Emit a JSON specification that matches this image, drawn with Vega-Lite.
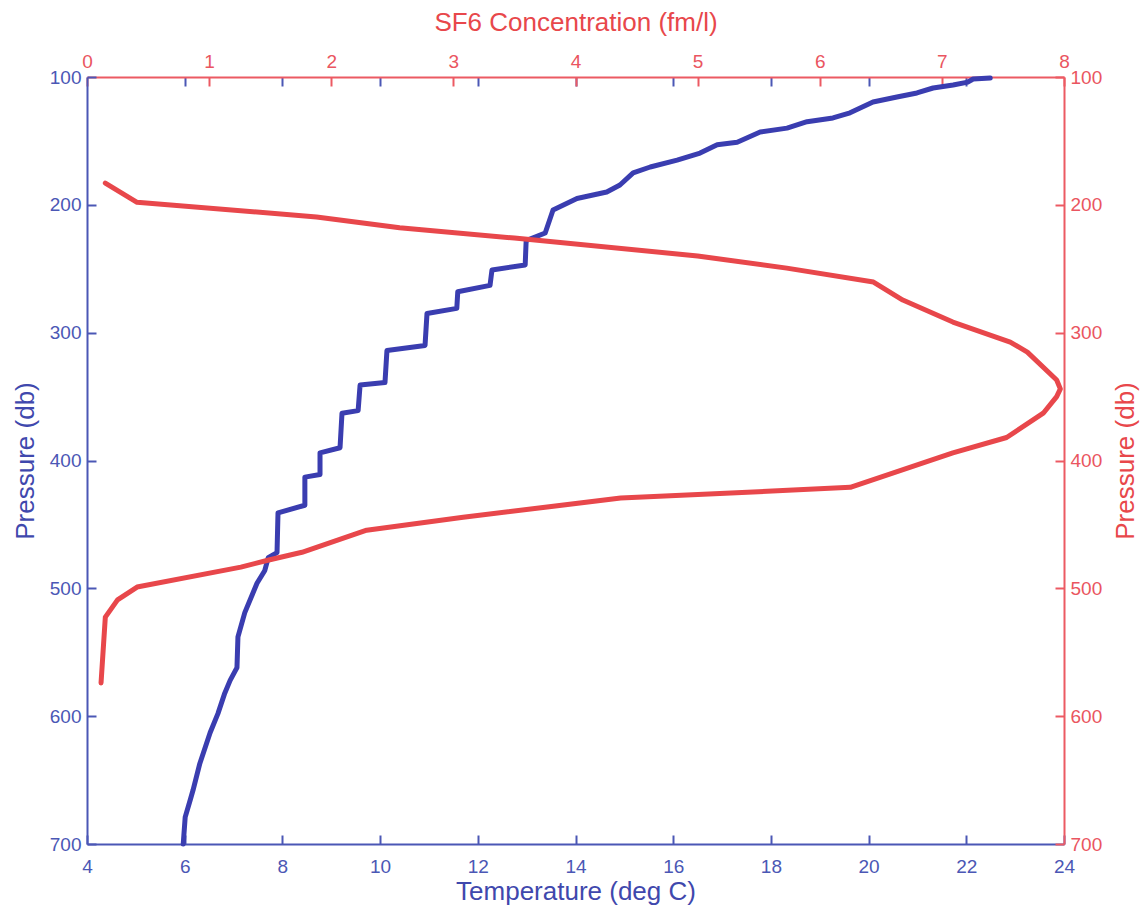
{
  "$schema": "https://vega.github.io/schema/vega-lite/v6.json",
  "autosize": {"type": "none"},
  "padding": {"left": 87, "top": 77, "right": 80, "bottom": 65},
  "width": 977,
  "height": 767,
  "background": "white",
  "config": {
    "view": {"stroke": null},
    "font": "Liberation Sans",
    "axis": {
      "grid": false,
      "labelFont": "Liberation Sans",
      "titleFont": "Liberation Sans",
      "labelFontSize": 19,
      "titleFontSize": 26,
      "titleFontWeight": "normal",
      "labelFlush": false,
      "labelOverlap": false,
      "labelBound": false,
      "tickSize": -9,
      "tickWidth": 2,
      "domainWidth": 2
    }
  },
  "datasets": {
    "temp": [
      {"i": 1, "T": 5.97, "P": 700},
      {"i": 2, "T": 6.01, "P": 679},
      {"i": 3, "T": 6.11, "P": 666},
      {"i": 4, "T": 6.17, "P": 658},
      {"i": 5, "T": 6.31, "P": 637},
      {"i": 6, "T": 6.52, "P": 613},
      {"i": 7, "T": 6.68, "P": 598},
      {"i": 8, "T": 6.82, "P": 582},
      {"i": 9, "T": 6.93, "P": 572},
      {"i": 10, "T": 7.07, "P": 562},
      {"i": 11, "T": 7.09, "P": 538},
      {"i": 12, "T": 7.23, "P": 519},
      {"i": 13, "T": 7.48, "P": 496},
      {"i": 14, "T": 7.64, "P": 486},
      {"i": 15, "T": 7.71, "P": 476},
      {"i": 16, "T": 7.89, "P": 472},
      {"i": 17, "T": 7.91, "P": 441},
      {"i": 18, "T": 8.46, "P": 435},
      {"i": 19, "T": 8.46, "P": 413},
      {"i": 20, "T": 8.77, "P": 411},
      {"i": 21, "T": 8.77, "P": 394},
      {"i": 22, "T": 9.18, "P": 390},
      {"i": 23, "T": 9.22, "P": 363},
      {"i": 24, "T": 9.55, "P": 361},
      {"i": 25, "T": 9.59, "P": 341},
      {"i": 26, "T": 10.1, "P": 339},
      {"i": 27, "T": 10.14, "P": 314},
      {"i": 28, "T": 10.92, "P": 310},
      {"i": 29, "T": 10.96, "P": 285},
      {"i": 30, "T": 11.57, "P": 281},
      {"i": 31, "T": 11.59, "P": 268},
      {"i": 32, "T": 12.25, "P": 263},
      {"i": 33, "T": 12.29, "P": 251},
      {"i": 34, "T": 12.97, "P": 247},
      {"i": 35, "T": 12.99, "P": 228},
      {"i": 36, "T": 13.38, "P": 222},
      {"i": 37, "T": 13.54, "P": 204},
      {"i": 38, "T": 14.03, "P": 195},
      {"i": 39, "T": 14.64, "P": 190},
      {"i": 40, "T": 14.91, "P": 184.5},
      {"i": 41, "T": 15.18, "P": 175},
      {"i": 42, "T": 15.53, "P": 170.4},
      {"i": 43, "T": 16.08, "P": 165},
      {"i": 44, "T": 16.55, "P": 159.5},
      {"i": 45, "T": 16.9, "P": 153},
      {"i": 46, "T": 17.31, "P": 151},
      {"i": 47, "T": 17.78, "P": 143},
      {"i": 48, "T": 18.33, "P": 140},
      {"i": 49, "T": 18.74, "P": 135},
      {"i": 50, "T": 19.27, "P": 132},
      {"i": 51, "T": 19.62, "P": 128},
      {"i": 52, "T": 20.09, "P": 119.6},
      {"i": 53, "T": 20.58, "P": 115.6},
      {"i": 54, "T": 20.99, "P": 112.5},
      {"i": 55, "T": 21.32, "P": 108.6},
      {"i": 56, "T": 21.73, "P": 106.3},
      {"i": 57, "T": 22.03, "P": 104},
      {"i": 58, "T": 22.14, "P": 101.6},
      {"i": 59, "T": 22.49, "P": 100.8}
    ],
    "sf6": [
      {"i": 1, "S": 0.15, "P": 183},
      {"i": 2, "S": 0.41, "P": 198},
      {"i": 3, "S": 1.88, "P": 209.5},
      {"i": 4, "S": 2.56, "P": 218},
      {"i": 5, "S": 3.5, "P": 226},
      {"i": 6, "S": 5.0, "P": 240},
      {"i": 7, "S": 5.73, "P": 249.5},
      {"i": 8, "S": 6.44, "P": 260.4},
      {"i": 9, "S": 6.68, "P": 274.5},
      {"i": 10, "S": 7.09, "P": 291.7},
      {"i": 11, "S": 7.56, "P": 307.4},
      {"i": 12, "S": 7.7, "P": 315.2},
      {"i": 13, "S": 7.94, "P": 337},
      {"i": 14, "S": 7.97, "P": 344},
      {"i": 15, "S": 7.94, "P": 350},
      {"i": 16, "S": 7.83, "P": 363},
      {"i": 17, "S": 7.53, "P": 382},
      {"i": 18, "S": 7.09, "P": 394},
      {"i": 19, "S": 6.25, "P": 421},
      {"i": 20, "S": 4.37, "P": 429.4},
      {"i": 21, "S": 3.08, "P": 444.4},
      {"i": 22, "S": 2.29, "P": 454.5},
      {"i": 23, "S": 1.76, "P": 471.8},
      {"i": 24, "S": 1.48, "P": 478},
      {"i": 25, "S": 1.26, "P": 483.4},
      {"i": 26, "S": 0.41, "P": 499},
      {"i": 27, "S": 0.25, "P": 509},
      {"i": 28, "S": 0.15, "P": 522.5},
      {"i": 29, "S": 0.115, "P": 574}
    ]
  },
  "layer": [
    {
      "data": {"name": "temp"},
      "mark": {"type": "line", "opacity": 0},
      "encoding": {
        "x": {"field": "T", "type": "quantitative",
          "scale": {"domain": [4, 24], "nice": false, "zero": false},
          "axis": {"orient": "top", "values": [6, 8, 10, 12, 14, 16, 18, 20, 22], "labels": false, "domain": false, "title": null, "tickColor": "#4b57b5"}},
        "y": {"field": "P", "type": "quantitative",
          "scale": {"domain": [100, 700], "reverse": true, "nice": false, "zero": false},
          "axis": null},
        "order": {"field": "i"}
      }
    },
    {
      "data": {"name": "temp"},
      "mark": {"type": "line", "color": "#3a3db0", "strokeWidth": 5, "strokeCap": "round", "strokeJoin": "round"},
      "encoding": {
        "x": {"field": "T", "type": "quantitative",
          "scale": {"domain": [4, 24], "nice": false, "zero": false},
          "axis": {"orient": "bottom", "values": [4, 6, 8, 10, 12, 14, 16, 18, 20, 22, 24],
            "title": "Temperature (deg C)", "titleColor": "#3f48ad", "titleX": 488.5, "titleY": 47, "titleBaseline": "middle",
            "labelColor": "#4b57b5", "domainColor": "#4b57b5", "tickColor": "#4b57b5", "labelPadding": 22}},
        "y": {"field": "P", "type": "quantitative",
          "scale": {"domain": [100, 700], "reverse": true, "nice": false, "zero": false},
          "axis": {"orient": "left", "values": [100, 200, 300, 400, 500, 600, 700],
            "title": "Pressure (db)", "titleColor": "#3f48ad", "titleX": -62, "titleY": 383.5, "titleAngle": 270, "titleAlign": "center", "titleBaseline": "middle",
            "labelColor": "#4b57b5", "domainColor": "#4b57b5", "tickColor": "#4b57b5", "labelPadding": 15}},
        "order": {"field": "i"}
      }
    },
    {
      "data": {"name": "sf6"},
      "mark": {"type": "line", "color": "#e8474b", "strokeWidth": 5, "strokeCap": "round", "strokeJoin": "round"},
      "encoding": {
        "x": {"field": "S", "type": "quantitative",
          "scale": {"domain": [0, 8], "nice": false, "zero": false},
          "axis": {"orient": "top", "values": [0, 1, 2, 3, 4, 5, 6, 7, 8],
            "title": "SF6 Concentration (fm/l)", "titleColor": "#e8474b", "titleX": 488.5, "titleY": -55, "titleBaseline": "middle",
            "labelColor": "#ea5560", "domainColor": "#ec5a63", "tickColor": "#ec5a63", "labelPadding": 15}},
        "y": {"field": "P", "type": "quantitative",
          "scale": {"domain": [100, 700], "reverse": true, "nice": false, "zero": false},
          "axis": {"orient": "right", "values": [100, 200, 300, 400, 500, 600, 700],
            "title": "Pressure (db)", "titleColor": "#e8474b", "titleX": 61, "titleY": 383.5, "titleAngle": 270, "titleAlign": "center", "titleBaseline": "middle",
            "labelColor": "#ea5560", "domainColor": "#ec5a63", "tickColor": "#ec5a63", "labelPadding": 15}},
        "order": {"field": "i"}
      }
    }
  ],
  "resolve": {"scale": {"x": "independent", "y": "independent"}, "axis": {"x": "independent", "y": "independent"}}
}
